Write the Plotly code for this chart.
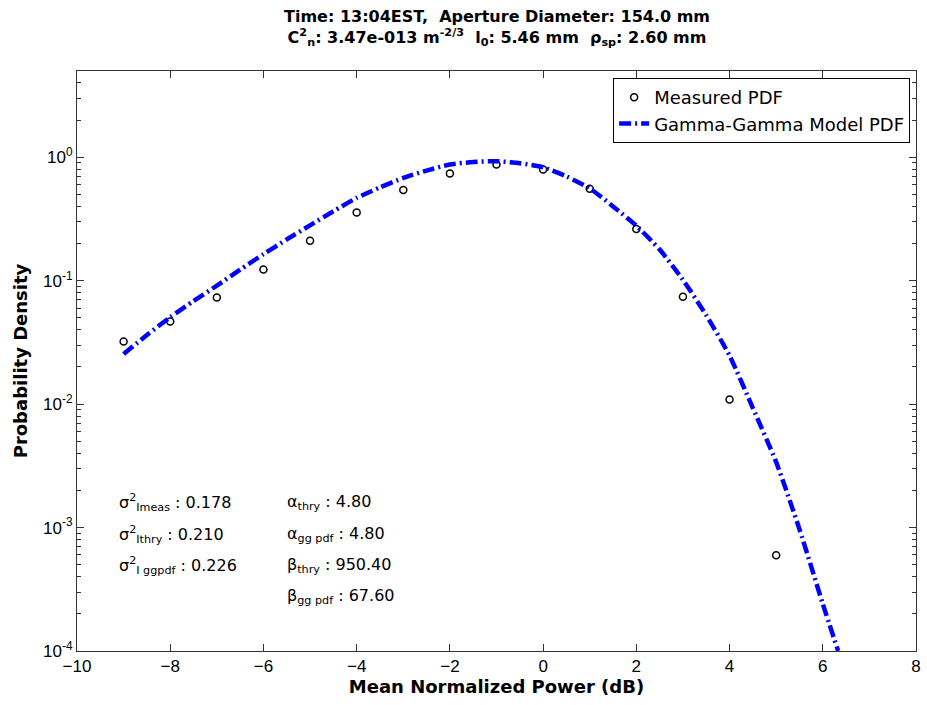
import plotly.graph_objects as go

# Measured PDF (circles)
meas_x = [-9, -8, -7, -6, -5, -4, -3, -2, -1, 0, 1, 2, 3, 4, 5]
meas_y = [0.0322, 0.0467, 0.073, 0.123, 0.211, 0.357, 0.544, 0.738, 0.873, 0.797,
          0.556, 0.262, 0.0742, 0.0109, 0.000597]

# Gamma-Gamma model PDF
model_x = [-9, -8.5, -8, -7.5, -7, -6.5, -6, -5.5, -5, -4.5, -4, -3.5, -3, -2.5, -2,
           -1.5, -1, -0.5, 0, 0.5, 1, 1.5, 2, 2.5, 3, 3.5, 4, 4.5, 5, 5.5, 6, 6.33]
model_y = [0.0255, 0.0363, 0.0507, 0.0684, 0.0912, 0.123, 0.164, 0.216, 0.281, 0.365,
           0.469, 0.57, 0.68, 0.78, 0.873, 0.915, 0.929, 0.895, 0.83, 0.70,
           0.56, 0.40, 0.279, 0.179, 0.1016, 0.0525, 0.0247, 0.0093, 0.00339,
           0.00097, 0.000241, 0.0001]

x_ticks = [-10, -8, -6, -4, -2, 0, 2, 4, 6, 8]
y_ticks = [1e-4, 1e-3, 1e-2, 1e-1, 1e0]
y_ticktext = ["10<sup>-4</sup>", "10<sup>-3</sup>", "10<sup>-2</sup>", "10<sup>-1</sup>", "10<sup>0</sup>"]
y_minor = [m * 10 ** e for e in range(-4, 1) for m in range(2, 10)]

title_1 = "Time: 13:04EST,  Aperture Diameter: 154.0 mm"
title_2 = ("C<sup>2</sup><sub>n</sub>: 3.47e-013 m<sup>-2/3</sup>  l<sub>0</sub>: 5.46 mm  "
           "ρ<sub>sp</sub>: 2.60 mm")

stats_left = ["σ<sup>2</sup><sub>Imeas</sub> : 0.178",
              "σ<sup>2</sup><sub>Ithry</sub> : 0.210",
              "σ<sup>2</sup><sub>I ggpdf</sub> : 0.226"]
stats_right = ["α<sub>thry</sub> : 4.80",
               "α<sub>gg pdf</sub> : 4.80",
               "β<sub>thry</sub> : 950.40",
               "β<sub>gg pdf</sub> : 67.60"]
stats_rows_y = [-2.80, -3.06, -3.31, -3.56]

FONT = "Liberation Sans, Arial, Helvetica, sans-serif"
WIDE = "DejaVu Sans, Verdana, sans-serif"

fig = go.Figure()
fig.add_trace(go.Scatter(
    x=meas_x, y=meas_y, mode="markers", name="Measured PDF",
    marker=dict(symbol="circle-open", size=7, color="black", line=dict(width=1.5, color="black")),
))
fig.add_trace(go.Scatter(
    x=model_x, y=model_y, mode="lines", name="Gamma-Gamma Model PDF",
    line=dict(color="#0000ff", width=4.5, dash="12px,4px,2px,4px", shape="spline", smoothing=0.6),
))

annotations = [
    dict(text="<b>" + title_1 + "<br>" + title_2 + "</b>", xref="paper", yref="paper",
         x=0.5, y=1.0, yshift=43, showarrow=False,
         font=dict(size=16, family=WIDE, color="black"),
         xanchor="center", yanchor="middle"),
]
for t, yy in zip(stats_left, stats_rows_y):
    annotations.append(dict(text=t, x=-9.14, y=yy, xref="x", yref="y", showarrow=False,
                            xanchor="left", yanchor="middle",
                            font=dict(size=16, family=WIDE, color="black")))
for t, yy in zip(stats_right, stats_rows_y):
    annotations.append(dict(text=t, x=-5.54, y=yy, xref="x", yref="y", showarrow=False,
                            xanchor="left", yanchor="middle",
                            font=dict(size=16, family=WIDE, color="black")))

fig.update_layout(
    width=927, height=705,
    margin=dict(l=77, r=6, t=71, b=54),
    paper_bgcolor="white", plot_bgcolor="white",
    font=dict(family=FONT, size=16, color="black"),
    showlegend=True,
    legend=dict(x=0.993, y=0.988, xanchor="right", yanchor="top",
                bordercolor="black", borderwidth=1, bgcolor="white",
                font=dict(size=18, family=WIDE, color="black"),
                tracegroupgap=0, itemwidth=30),
    annotations=annotations,
)
fig.update_xaxes(
    range=[-10, 8], tickvals=x_ticks, ticks="inside", ticklen=7, tickcolor="#333",
    showline=True, linecolor="#333", linewidth=1, mirror="ticks",
    showgrid=False, zeroline=False,
    tickfont=dict(size=17, family=FONT),
    title=dict(text="<b>Mean Normalized Power (dB)</b>", font=dict(size=18, family=WIDE), standoff=3),
)
fig.update_yaxes(
    type="log", range=[-4, 0.699], tickvals=y_ticks, ticktext=y_ticktext,
    ticks="inside", ticklen=7, tickcolor="#333",
    minor=dict(tickvals=y_minor, ticks="inside", ticklen=4, tickcolor="#333", showgrid=False),
    showline=True, linecolor="#333", linewidth=1, mirror="ticks",
    showgrid=False, zeroline=False,
    tickfont=dict(size=17, family=FONT),
    title=dict(text="<b>Probability Density</b>", font=dict(size=18, family=WIDE), standoff=10),
)

fig.write_html("out.html")
